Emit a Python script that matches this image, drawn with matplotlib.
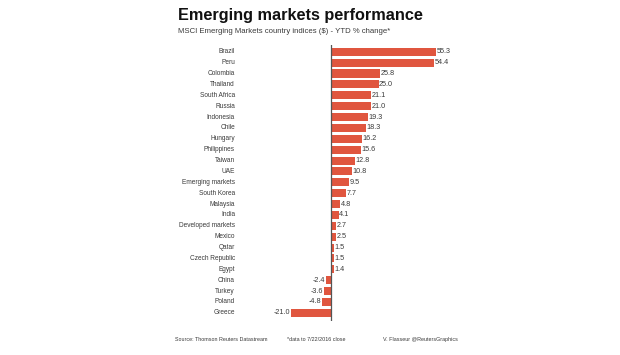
import matplotlib
matplotlib.use("Agg")
import matplotlib.pyplot as plt
import matplotlib.transforms as mtrans

plt.rcParams['font.family'] = ['Liberation Sans', 'DejaVu Sans']

countries = ["Brazil", "Peru", "Colombia", "Thailand", "South Africa", "Russia",
             "Indonesia", "Chile", "Hungary", "Philippines", "Taiwan", "UAE",
             "Emerging markets", "South Korea", "Malaysia", "India",
             "Developed markets", "Mexico", "Qatar", "Czech Republic", "Egypt",
             "China", "Turkey", "Poland", "Greece"]
values = [55.3, 54.4, 25.8, 25.0, 21.1, 21.0, 19.3, 18.3, 16.2, 15.6, 12.8, 10.8,
          9.5, 7.7, 4.8, 4.1, 2.7, 2.5, 1.5, 1.5, 1.4, -2.4, -3.6, -4.8, -21.0]

title = "Emerging markets performance"
subtitle = "MSCI Emerging Markets country indices ($) - YTD % change*"
source = "Source: Thomson Reuters Datastream"
note = "*data to 7/22/2016 close"
credit = "V. Flasseur @ReutersGraphics"

W, H = 620, 355
fig = plt.figure(figsize=(W / 100, H / 100), dpi=100)

n = len(countries)
zero_px = 331
scale = 1.9  # px per unit
xmin, xmax = -22.0, 58.0
left_px = zero_px + xmin * scale
width_px = (xmax - xmin) * scale
top_px, bot_px = 45, 321
ax = fig.add_axes([left_px / W, 1 - bot_px / H, width_px / W, (bot_px - top_px) / H])

ypos = list(range(n))
color = "#e0563f"
ax.barh(ypos, values, height=0.74, color=color, edgecolor="none")
ax.set_xlim(xmin, xmax)
ax.set_ylim(n - 1 + 0.75, -0.62)
ax.axvline(0, color="#555555", lw=0.9)
ax.axis("off")

txtc = "#3a3a3a"
for y, v in zip(ypos, values):
    if v >= 0:
        ax.text(v + 0.3, y, f"{v:.1f}", va="center", ha="left", fontsize=5.2, color=txtc)
    else:
        ax.text(v - 0.5, y, f"{v:.1f}", va="center", ha="right", fontsize=5.2, color=txtc)

tr = mtrans.blended_transform_factory(fig.transFigure, ax.transData)
for y, c in zip(ypos, countries):
    fig.text(235 / W, y, c, transform=tr, fontsize=4.7, color=txtc, va="center", ha="right")

fig.text(178 / W, 1 - 20 / H, title, fontsize=11.7, fontweight="bold", color="#111111",
         ha="left", va="baseline")
fig.text(178 / W, 1 - 33 / H, subtitle, fontsize=5.6, color=txtc, ha="left", va="baseline")

fy = 1 - 341 / H
fig.text(175 / W, fy, source, fontsize=3.9, color=txtc, ha="left", va="baseline")
fig.text(287 / W, fy, note, fontsize=3.9, color=txtc, ha="left", va="baseline")
fig.text(383 / W, fy, credit, fontsize=3.9, color=txtc, ha="left", va="baseline")

fig.savefig("out.png", dpi=100)
